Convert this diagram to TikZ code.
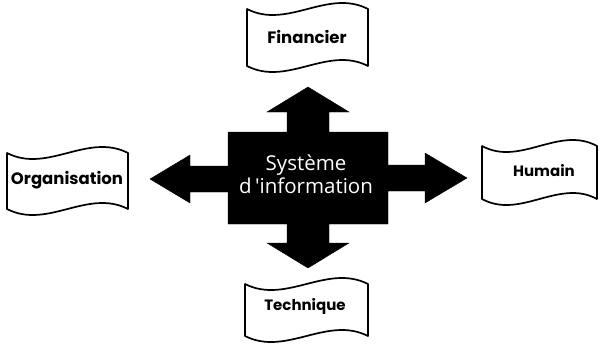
\documentclass[tikz,border=0pt]{standalone}
\usepackage{fontspec}
\setmainfont{Poppins}
\newfontfamily\sysfont{Open Sans}
\tikzset{
  flagline/.style={draw=black, line width=1.7pt, fill=white, line join=round},
  flagtext/.style={font=\bfseries\fontsize{#1}{#1}\selectfont, text=black, inner sep=0pt},
  crossshape/.style={fill=black, draw=black, line width=0.4pt},
  systext/.style={font=\sysfont\fontsize{20.5}{23}\selectfont, text=white, align=center, inner sep=0pt}
}
\newcommand{\waveflag}[5]{%
  \begin{scope}[shift={(#1,#2)}]
    \draw[flagline] (0,0) .. controls ({#3/3},{2.6*#5}) and ({2*#3/3},{-2.6*#5}) .. (#3,0)
      -- (#3,#4) .. controls ({2*#3/3},{#4-2.6*#5}) and ({#3/3},{#4+2.6*#5}) .. (0,#4) -- cycle;
  \end{scope}}
\begin{document}
\begin{tikzpicture}[x=1pt,y=-1pt]
\useasboundingbox (0,0) rectangle (599,353);
% central cross with four arrows
\path[crossshape] (308,87) -- (349,112) -- (329,112) -- (329,132) -- (388,132) -- (388,165)
  -- (425,165) -- (425,153) -- (467,178) -- (425,203) -- (425,191) -- (388,191) -- (388,224)
  -- (329,224) -- (329,243) -- (349,243) -- (308,268) -- (267,243) -- (287,243) -- (287,224)
  -- (228,224) -- (228,192) -- (190,192) -- (190,203) -- (150,179) -- (190,155) -- (190,166)
  -- (228,166) -- (228,132) -- (287,132) -- (287,112) -- (267,112) -- cycle;
\node[systext] (sys) at (306,174) {Système\\d\,'information};
% flags
\waveflag{247}{9}{121}{57}{8}
\waveflag{7}{153}{121}{56}{8}
\waveflag{482}{146}{115}{53}{8}
\waveflag{245}{284}{123}{52}{8}
\node[flagtext=16.5] (fin) at (307,37) {Financier};
\node[flagtext=16.5] (org) at (67,180) {Organisation};
\node[flagtext=15] (hum) at (544,171) {Humain};
\node[flagtext=15] (tech) at (305,306) {Technique};
\end{tikzpicture}
\end{document}
